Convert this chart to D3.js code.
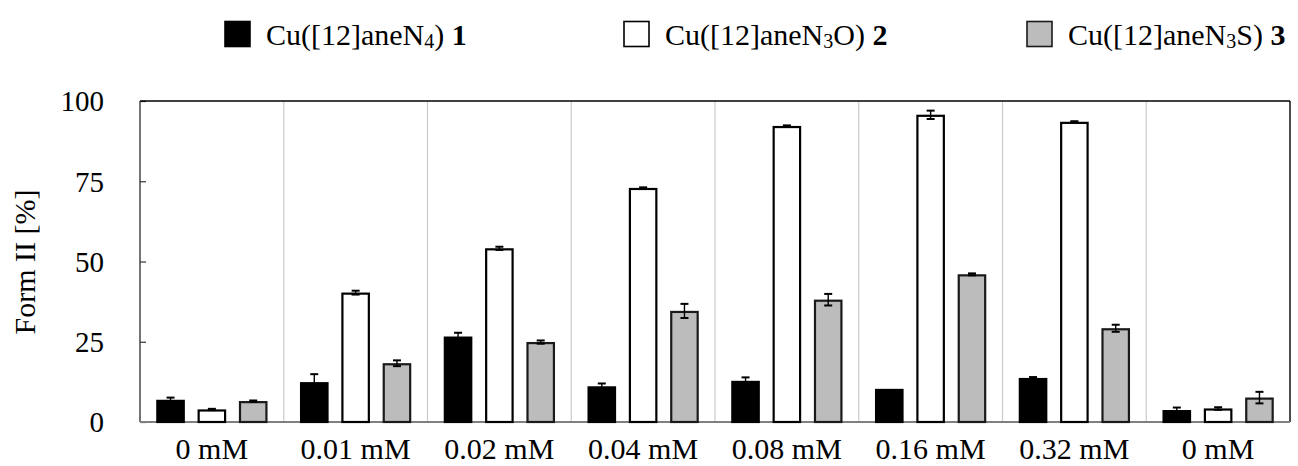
<!DOCTYPE html>
<html>
<head>
<meta charset="utf-8">
<script src="https://cdn.jsdelivr.net/npm/d3@7"></script>
<style>
  html, body { margin: 0; padding: 0; background: #fff; }
  svg { display: block; }
  svg text { font-family: "Liberation Serif", "Times New Roman", serif; }
</style>
</head>
<body>
<svg id="chart" width="1298" height="466"></svg>
<script>
// Copper complex concentrations (x categories)
const categories = ["0 mM", "0.01 mM", "0.02 mM", "0.04 mM", "0.08 mM", "0.16 mM", "0.32 mM", "0 mM"];

// Form II [%] for each complex, with standard deviations
const cu1 = [6.9, 12.4, 26.6, 11.1, 12.8, 10.3, 13.7, 3.7];
const cu1Err = [0.7, 2.5, 1.2, 0.9, 1.1, 0, 0.3, 0.8];
const cu2 = [3.9, 40.3, 54.1, 72.9, 92.2, 95.7, 93.5, 4.2];
const cu2Err = [0.2, 0.6, 0.5, 0.2, 0.2, 1.3, 0.2, 0.4];
const cu3 = [6.5, 18.3, 24.9, 34.6, 38.1, 46.0, 29.2, 7.6];
const cu3Err = [0.2, 0.9, 0.5, 2.2, 1.8, 0.3, 1.1, 1.8];

// y axis tick values
const yTicks = [0, 25, 50, 75, 100];

const series = [
  { key: "s1", values: cu1, errors: cu1Err, fill: "#000000", stroke: "#000000",
    base: "Cu([12]aneN", sub: "4", tail: ")", num: "1" },
  { key: "s2", values: cu2, errors: cu2Err, fill: "#ffffff", stroke: "#000000",
    base: "Cu([12]aneN", sub: "3", tail: "O)", num: "2" },
  { key: "s3", values: cu3, errors: cu3Err, fill: "#bcbcbc", stroke: "#1a1a1a",
    base: "Cu([12]aneN", sub: "3", tail: "S)", num: "3" }
];

const svg = d3.select("#chart");
const plot = { left: 140, right: 1290, top: 101, bottom: 422 };

const x = d3.scaleBand()
  .domain(d3.range(categories.length))
  .range([plot.left, plot.right])
  .paddingInner(0)
  .paddingOuter(0);

const half = 62;
const xInner = d3.scaleBand()
  .domain(series.map(s => s.key))
  .range([-half, half])
  .paddingInner(0.312)
  .paddingOuter(0.156);

const y = d3.scaleLinear().domain([0, 100]).range([plot.bottom, plot.top]);

// group separators
svg.append("g")
  .selectAll("line")
  .data(d3.range(1, categories.length))
  .join("line")
  .attr("x1", i => x(i)).attr("x2", i => x(i))
  .attr("y1", plot.top).attr("y2", plot.bottom)
  .attr("stroke", "#cbcbcb")
  .attr("stroke-width", 1.2);

// y axis with inward ticks
const yAxis = svg.append("g")
  .attr("transform", `translate(${plot.left},0)`)
  .call(d3.axisLeft(y).tickValues(yTicks).tickSize(-6).tickPadding(36));
yAxis.attr("font-family", null).attr("font-size", null);
yAxis.select(".domain").remove();
yAxis.selectAll(".tick line").attr("stroke", "#333").attr("stroke-width", 1.2);
yAxis.selectAll(".tick text")
  .style("font-family", "'Liberation Serif', 'Times New Roman', serif")
  .style("font-size", "29px")
  .attr("fill", "#000")
  .attr("dy", "0.34em");

// frame
svg.append("line").attr("x1", plot.left).attr("x2", plot.right)
  .attr("y1", plot.top).attr("y2", plot.top).attr("stroke", "#000").attr("stroke-width", 1.4);
svg.append("line").attr("x1", plot.right).attr("x2", plot.right)
  .attr("y1", plot.top).attr("y2", plot.bottom).attr("stroke", "#000").attr("stroke-width", 1.4);
svg.append("line").attr("x1", plot.left).attr("x2", plot.left)
  .attr("y1", plot.top).attr("y2", plot.bottom).attr("stroke", "#3a3a3a").attr("stroke-width", 1.4);
svg.append("line").attr("x1", plot.left).attr("x2", plot.right)
  .attr("y1", plot.bottom).attr("y2", plot.bottom).attr("stroke", "#808080").attr("stroke-width", 2);

// bars
const bw = xInner.bandwidth();
const groups = svg.append("g")
  .selectAll("g")
  .data(d3.range(categories.length))
  .join("g")
  .attr("transform", i => `translate(${x(i) + x.bandwidth() / 2},0)`);

groups.selectAll("rect")
  .data(i => series.map(s => ({ s, v: s.values[i], e: s.errors[i] })))
  .join("rect")
  .attr("x", d => xInner(d.s.key) + 1)
  .attr("width", bw - 2)
  .attr("y", d => y(d.v) + 1)
  .attr("height", d => y(0) - y(d.v) - 1)
  .attr("fill", d => d.s.fill)
  .attr("stroke", d => d.s.stroke)
  .attr("stroke-width", 2.2);

// error bars
const errG = groups.selectAll("g.err")
  .data(i => series.map(s => ({ s, v: s.values[i], e: s.errors[i] })).filter(d => d.e > 0))
  .join("g")
  .attr("class", "err")
  .attr("transform", d => `translate(${xInner(d.s.key) + bw / 2},0)`);
errG.append("line")
  .attr("x1", 0).attr("x2", 0)
  .attr("y1", d => y(d.v - d.e)).attr("y2", d => y(d.v + d.e))
  .attr("stroke", "#000").attr("stroke-width", 1.4);
errG.selectAll("line.cap")
  .data(d => [d.v - d.e, d.v + d.e])
  .join("line")
  .attr("class", "cap")
  .attr("x1", -4).attr("x2", 4)
  .attr("y1", v => y(v)).attr("y2", v => y(v))
  .attr("stroke", "#000").attr("stroke-width", 2);

// category labels
svg.append("g")
  .selectAll("text")
  .data(d3.range(categories.length))
  .join("text")
  .attr("x", i => x(i) + x.bandwidth() / 2)
  .attr("y", 459)
  .attr("text-anchor", "middle")
  .style("font-size", "30px")
  .text(i => categories[i]);

// y axis title
svg.append("text")
  .attr("transform", "translate(35,262) rotate(-90)")
  .attr("text-anchor", "middle")
  .style("font-size", "30px")
  .text("Form II [%]");

// legend
const legendX = [266, 665, 1068];
const box = 25;
const legend = svg.append("g")
  .selectAll("g")
  .data(series)
  .join("g")
  .attr("transform", (d, i) => `translate(${legendX[i]},0)`);
legend.append("rect")
  .attr("x", -16 - box)
  .attr("y", 34 - box / 2)
  .attr("width", box).attr("height", box)
  .attr("fill", d => d.fill)
  .attr("stroke", d => d.stroke)
  .attr("stroke-width", 1.6);
const lt = legend.append("text")
  .attr("x", 0).attr("y", 45)
  .style("font-size", "30px");
lt.append("tspan").text(d => d.base);
lt.append("tspan").style("font-size", "20px").attr("dy", 3).text(d => d.sub);
lt.append("tspan").attr("dy", -3).text(d => d.tail + " ");
lt.append("tspan").attr("font-weight", "bold").text(d => d.num);
</script>
</body>
</html>
